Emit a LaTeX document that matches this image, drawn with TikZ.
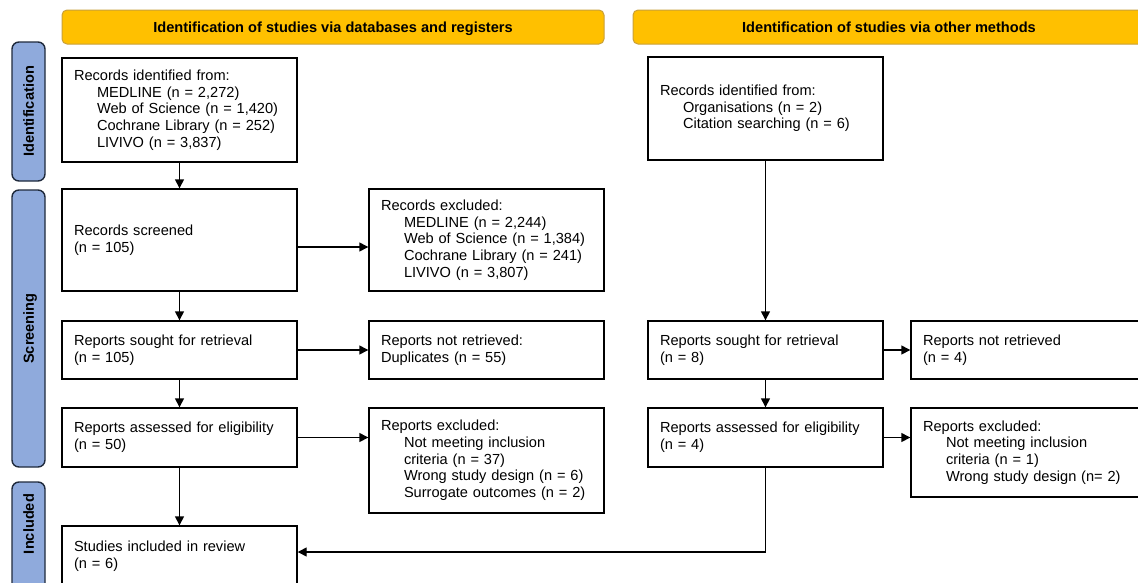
\documentclass[tikz,border=0pt]{standalone}
\usepackage{fontspec}
\setmainfont{Liberation Sans}
\usetikzlibrary{arrows.meta}
\definecolor{hdr}{HTML}{FFC000}
\definecolor{hdrline}{HTML}{C9A03A}
\definecolor{side}{HTML}{8FAADC}
\definecolor{sideline}{HTML}{1F2A3C}
\newcommand{\ind}{\hspace*{23pt}}
\begin{document}
\begin{tikzpicture}[x=1pt,y=-1pt,
  txt/.style={font=\fontsize{14.6}{16.7}\selectfont},
  box/.style={txt, draw=black, line width=1.4pt, align=left, inner xsep=12pt, inner ysep=0pt,
              minimum width=235pt, text width=211pt},
  hdrbox/.style={draw=hdrline, line width=1pt, fill=hdr, rounded corners=5pt,
              font=\bfseries\fontsize{14.6}{16.7}\selectfont, minimum height=34pt,
              text height=10.5pt, text depth=0pt},
  sidebox/.style={draw=sideline, line width=1.4pt, fill=side, rounded corners=7pt,
              minimum height=33pt, rotate=90, font=\bfseries\fontsize{14.6}{16.7}\selectfont,
              text height=10.5pt, text depth=0pt},
  sidetext/.style={rotate=90, font=\bfseries\fontsize{14.6}{16.7}\selectfont,
              text height=10.5pt, text depth=0pt},
  arr/.style={line width=1.4pt, -{Triangle[length=9pt,width=9pt]}},
  ln/.style={line width=1.4pt}]
\useasboundingbox (0,0) rectangle (1138,582);
\clip (0,0) rectangle (1138,582);
\fill[white] (0,0) rectangle (1138,582);

% headers
\node[hdrbox, minimum width=542pt] (hL) at (333,27) {Identification of studies via databases and registers};
\node[hdrbox, minimum width=512pt] (hR) at (889,27) {Identification of studies via other methods};

% side bars
\node[sidebox, minimum width=139pt] (sI) at (28.5,111.5) {Identification};
\node[sidebox, minimum width=277pt] (sS) at (28.5,328.5) {Screening};
\node[sidebox, minimum width=120pt] (sC) at (28.5,542) {};
\node[sidetext] (sCt) at (28.5,524) {Included};

% left column
\node[box, minimum height=104pt] (idL) at (179.5,110) {Records identified from:\\ \ind MEDLINE (n = 2,272)\\ \ind Web of Science (n = 1,420)\\ \ind Cochrane Library (n = 252)\\ \ind LIVIVO (n = 3,837)};
\node[box, minimum height=102pt] (scr) at (179.5,240) {Records screened\\ (n = 105)};
\node[box, minimum height=102pt] (exc) at (486.5,240) {Records excluded:\\ \ind MEDLINE (n = 2,244)\\ \ind Web of Science (n = 1,384)\\ \ind Cochrane Library (n = 241)\\ \ind LIVIVO (n = 3,807)};
\node[box, minimum height=58pt] (sgt) at (179.5,350) {Reports sought for retrieval\\ (n = 105)};
\node[box, minimum height=58pt] (nret) at (486.5,350) {Reports not retrieved:\\ Duplicates (n = 55)};
\node[box, minimum height=59pt] (asm) at (179.5,437.5) {Reports assessed for eligibility\\ (n = 50)};
\node[box, minimum height=105pt] (rexc) at (486.5,460.5) {Reports excluded:\\ \ind Not meeting inclusion\\ \ind criteria (n = 37)\\ \ind Wrong study design (n = 6)\\ \ind Surrogate outcomes (n = 2)};
\node[box, minimum height=60pt] (inc) at (179.5,556) {Studies included in review\\ (n = 6)};

% right column
\node[box, minimum height=103pt] (idR) at (765.5,108.5) {Records identified from:\\ \ind Organisations (n = 2)\\ \ind Citation searching (n = 6)};
\node[box, minimum height=58pt] (sgtR) at (765.5,350) {Reports sought for retrieval\\ (n = 8)};
\node[box, minimum height=58pt] (nretR) at (1028.5,350) {Reports not retrieved\\ (n = 4)};
\node[box, minimum height=59pt] (asmR) at (765.5,437.5) {Reports assessed for eligibility\\ (n = 4)};
\node[box, minimum height=89pt] (rexcR) at (1028.5,452.5) {Reports excluded:\\ \ind Not meeting inclusion\\ \ind criteria (n = 1)\\ \ind Wrong study design (n= 2)};

% connectors
\draw[arr] (idL.south) -- (scr.north);
\draw[arr] ([yshift=-7pt]scr.east) -- ([yshift=-7pt]scr.east -| exc.west);
\draw[arr] (scr.south) -- (sgt.north);
\draw[arr] (sgt.east) -- (nret.west);
\draw[arr] (sgt.south) -- (asm.north);
\draw[arr] (asm.east) -- (asm.east -| rexc.west);
\draw[arr] (asm.south) -- (inc.north);
\draw[arr] (idR.south) -- (sgtR.north);
\draw[arr] (sgtR.east) -- (nretR.west);
\draw[arr] (sgtR.south) -- (asmR.north);
\draw[arr] (asmR.east) -- (asmR.east -| rexcR.west);
\draw[arr] (asmR.south) |- ([yshift=4pt]inc.east);
\end{tikzpicture}
\end{document}
